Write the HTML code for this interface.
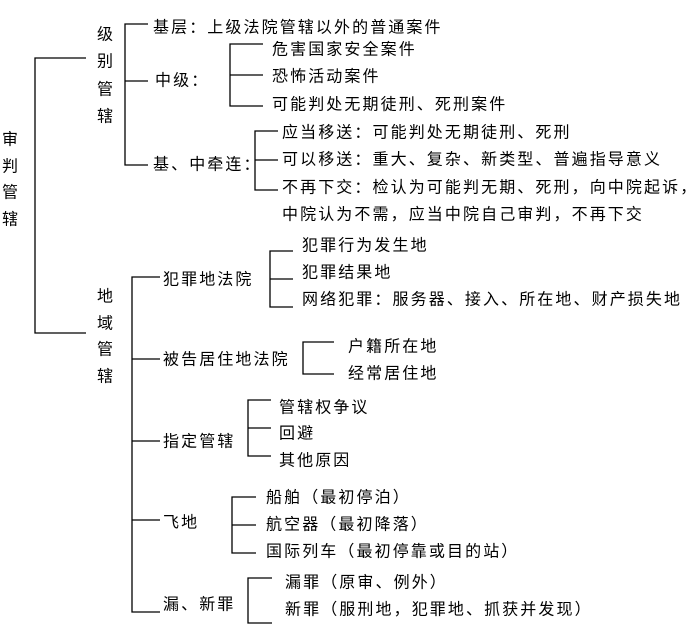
<!DOCTYPE html>
<html><head><meta charset="utf-8"><style>
body{margin:0;background:#fff}
svg{display:block}
text{font-family:"Liberation Sans","Noto Sans CJK SC",sans-serif;font-size:16px;fill:#000;letter-spacing:2.1px;dominant-baseline:central}
</style></head><body>
<svg width="696" height="632" viewBox="0 0 696 632">
<g stroke="#000" stroke-width="1.3" fill="none">
<path d="M86 58H35V333H86"/>
<path d="M148 24H125V165H148M125 81H148"/>
<path d="M263 44H230V106H263M230 75H263"/>
<path d="M278 131H255V190H278M255 160H278"/>
<path d="M160 277H132V612H160M132 359H160M132 441H160M132 520H160"/>
<path d="M293 251H270V307H293M270 279H293"/>
<path d="M334 342H303V374H334"/>
<path d="M271 400H248V456H271M248 428H271"/>
<path d="M256 497H232V553H256M232 525H256"/>
<path d="M272 578H248V623H272"/>
</g>
<g>
<text x="2" y="140">审</text><text x="2" y="167">判</text><text x="2" y="193">管</text><text x="2" y="220">辖</text>
<text x="97" y="35">级</text><text x="97" y="62">别</text><text x="97" y="90">管</text><text x="97" y="117">辖</text>
<text x="97" y="297">地</text><text x="97" y="324">域</text><text x="97" y="350">管</text><text x="97" y="377">辖</text>
<text x="153" y="28">基层：上级法院管辖以外的普通案件</text>
<text x="155" y="81">中级：</text>
<text x="153" y="165">基、中牵连：</text>
<text x="272" y="50">危害国家安全案件</text>
<text x="272" y="77">恐怖活动案件</text>
<text x="272" y="105">可能判处无期徒刑、死刑案件</text>
<text x="282" y="133">应当移送：可能判处无期徒刑、死刑</text>
<text x="282" y="160">可以移送：重大、复杂、新类型、普遍指导意义</text>
<text x="282" y="188">不再下交：检认为可能判无期、死刑，向中院起诉，</text>
<text x="282" y="215">中院认为不需，应当中院自己审判，不再下交</text>
<text x="163" y="280">犯罪地法院</text>
<text x="302" y="246">犯罪行为发生地</text>
<text x="302" y="273">犯罪结果地</text>
<text x="302" y="300">网络犯罪：服务器、接入、所在地、财产损失地</text>
<text x="163" y="360">被告居住地法院</text>
<text x="348" y="347">户籍所在地</text>
<text x="348" y="374">经常居住地</text>
<text x="163" y="442">指定管辖</text>
<text x="279" y="408">管辖权争议</text>
<text x="279" y="434">回避</text>
<text x="279" y="461">其他原因</text>
<text x="163" y="523">飞地</text>
<text x="266" y="498">船舶（最初停泊）</text>
<text x="266" y="525">航空器（最初降落）</text>
<text x="266" y="552">国际列车（最初停靠或目的站）</text>
<text x="163" y="605">漏、新罪</text>
<text x="285" y="583">漏罪（原审、例外）</text>
<text x="285" y="610">新罪（服刑地，犯罪地、抓获并发现）</text>
</g>
</svg>
</body></html>
